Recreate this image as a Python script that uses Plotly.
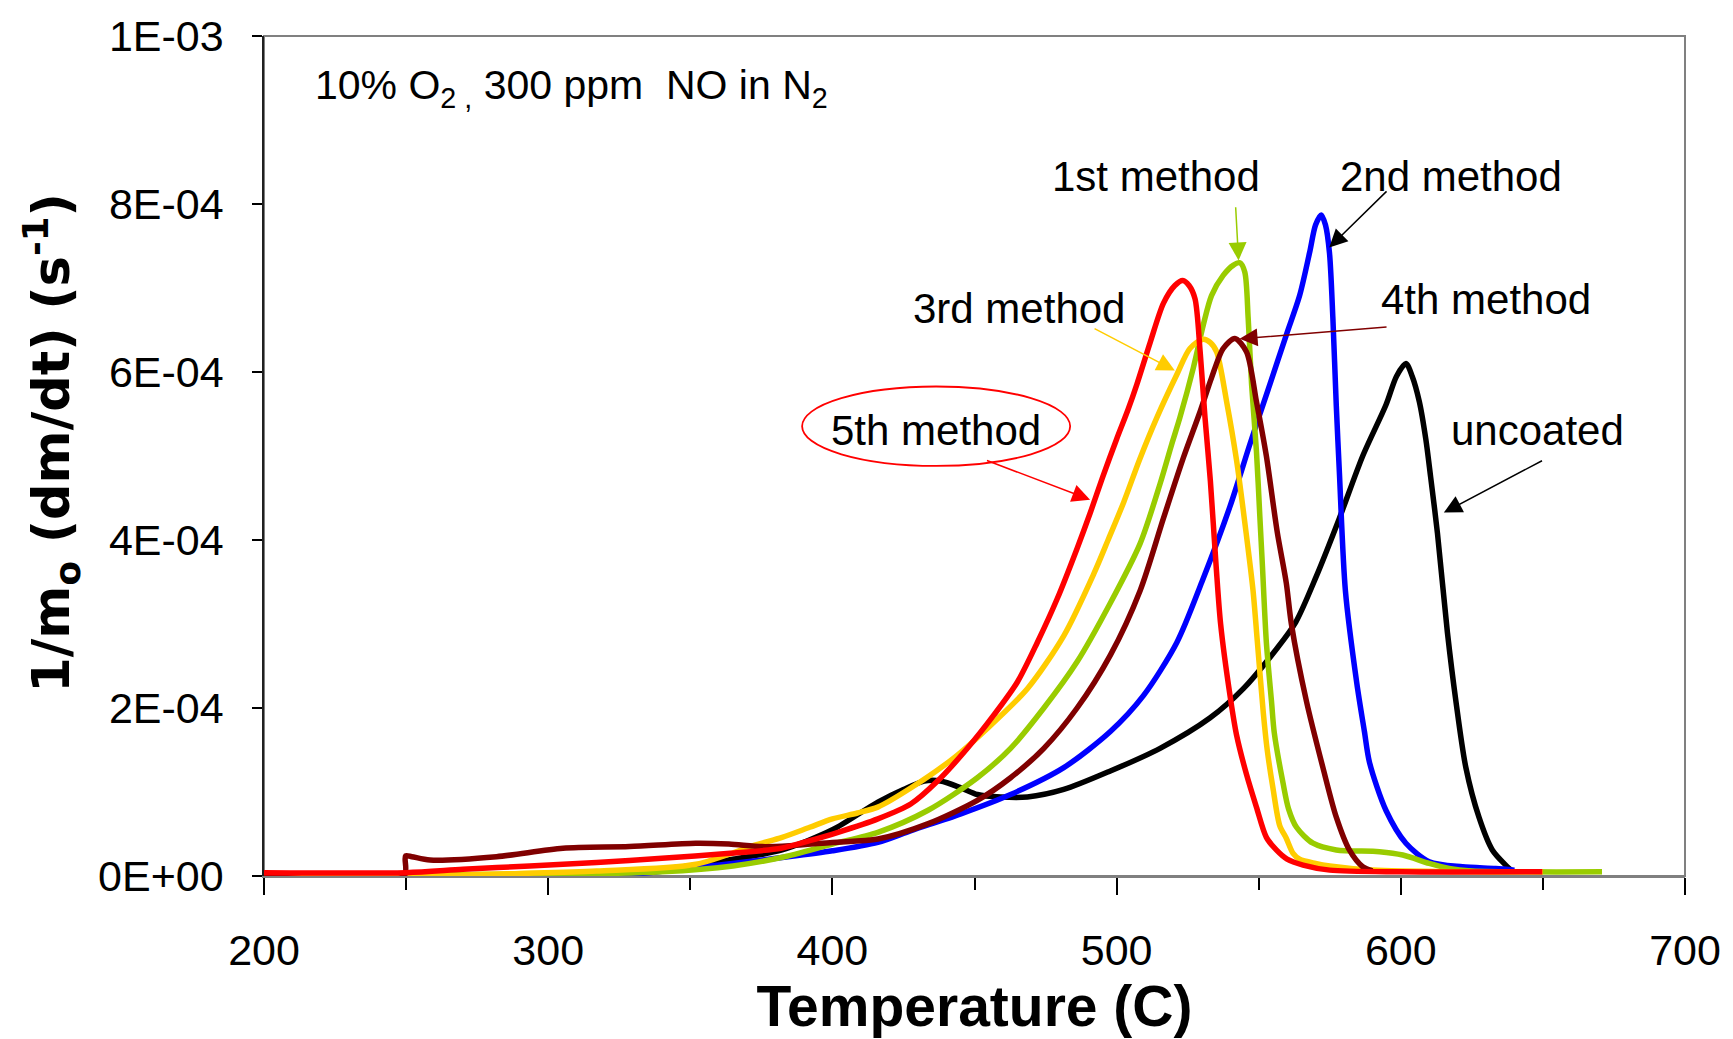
import plotly.graph_objects as go

# ---- data (rate values in units of 1E-04 s^-1) ----
SCALE = 1e-4

t_uncoated = [200, 290, 320, 345, 365, 382.3, 400, 416, 425, 432.3, 438, 445.2, 451, 459.2, 468.6,
              481.4, 497.8, 515.3, 532.8, 544.6, 556.2, 563, 570.3, 578.4, 586.6, 594.8, 598.5,
              601.8, 604, 606.5, 608.8, 610.5, 612.9, 616.4, 619.4, 622.9, 627.5, 632.2, 636.9, 639.5]
r_uncoated = [0, 0, 0.03, 0.1, 0.2, 0.31, 0.55, 0.88, 1.03, 1.13, 1.13, 1.05, 0.97, 0.94, 0.94,
              1.03, 1.25, 1.52, 1.88, 2.23, 2.70, 3.02, 3.57, 4.26, 5.0, 5.61, 5.95,
              6.10, 5.95, 5.65, 5.2, 4.75, 4.08, 2.90, 2.08, 1.29, 0.70, 0.31, 0.13, 0.05]

t_method2 = [200, 300, 328.6, 351.9, 370, 382.3, 400, 416, 427.7, 445.2, 462.7, 481.4, 497.8,
             509.5, 521.2, 530, 539.9, 546.9, 553.9, 559.7, 564.4, 567.9, 570, 572, 573.5, 574.9,
             576.1, 577.3, 578.4, 580.5, 584.5, 587.2, 589, 594.8, 601.8, 610, 621.7, 633.4, 640]
r_method2 = [0, 0, 0.02, 0.1, 0.17, 0.22, 0.3, 0.40, 0.54, 0.74, 0.97, 1.29, 1.72,
             2.15, 2.78, 3.5, 4.4, 5.14, 5.85, 6.44, 6.91, 7.42, 7.75, 7.87, 7.75, 7.42,
             6.64, 5.6, 4.8, 3.4, 2.3, 1.72, 1.35, 0.78, 0.39, 0.17, 0.11, 0.09, 0.07]

t_method1 = [200, 240, 300, 340, 365, 382, 400, 416, 433.5, 451, 462.7, 474.4, 486.1, 497.8,
             508.3, 515.3, 519.4, 522.3, 527, 530.5, 533.4, 537.5, 541, 543.4, 545.1, 546.3,
             547.5, 549.2, 550.4, 551.3, 552.7, 554.5, 555.5, 558.6, 560.5, 563.3, 569.1, 577.3,
             592.5, 600.7, 610, 617, 625, 670.8]
r_method1 = [0, 0.02, 0.02, 0.05, 0.12, 0.22, 0.38, 0.52, 0.78, 1.17, 1.52, 2.0, 2.55, 3.25,
             3.96, 4.67, 5.14, 5.46, 6.05, 6.56, 6.91, 7.15, 7.27, 7.30, 7.19, 6.64,
             5.85, 5.06, 4.28, 3.7, 2.78, 2.08, 1.70, 1.10, 0.8, 0.58, 0.39, 0.31,
             0.29, 0.25, 0.15, 0.09, 0.06, 0.05]

t_method3 = [200, 255, 290, 317, 352, 373, 382.3, 392, 400, 408.8, 416, 427.7, 442.9, 454.6,
             468.6, 481.4, 492, 497, 502.5, 508, 514.2, 521.2, 525.8, 530.5, 533, 535.2, 538.7,
             542.2, 545.7, 548, 549.5, 551.6, 553, 555, 557.4, 559.7, 562.1, 564.4, 570, 575,
             590, 620, 650]
r_method3 = [0, 0, 0.03, 0.06, 0.14, 0.37, 0.46, 0.58, 0.68, 0.75, 0.82, 1.05, 1.41, 1.76,
             2.23, 2.86, 3.6, 4.0, 4.45, 4.95, 5.46, 5.97, 6.28, 6.39, 6.35, 6.24, 5.65,
             4.95, 4.05, 3.4, 2.8, 1.95, 1.5, 1.05, 0.6, 0.45, 0.27, 0.2, 0.15, 0.12,
             0.07, 0.05, 0.05]

t_method4 = [200, 249.3, 249.8, 252, 258.4, 281.8, 305.2, 328.6, 351.9, 363.6, 375.3, 385, 400,
             416, 433.5, 451, 462.7, 474.4, 486.1, 497.8, 508.3, 516.5, 523.5, 529.4, 533.4,
             537.5, 541.6, 545.7, 549.2, 552.7, 556.5, 559.7, 561.5, 566.8, 572.6, 577.3, 581.9,
             586.6, 590]
r_method4 = [0, 0, 0.24, 0.23, 0.19, 0.23, 0.33, 0.35, 0.39, 0.38, 0.35, 0.36, 0.4,
             0.44, 0.62, 0.90, 1.17, 1.52, 2.0, 2.63, 3.4, 4.26, 4.98, 5.53, 5.93,
             6.28, 6.40, 6.24, 5.65, 5.0, 4.1, 3.49, 3.0, 2.08, 1.29, 0.70, 0.31,
             0.11, 0.06]

t_method5 = [200, 250, 270, 293.5, 317, 340, 364, 382, 392, 402, 416, 427.7, 437, 447.5, 456.9,
             465.1, 472.1, 479.1, 486.1, 490.8, 495, 500, 504, 507.1, 511.8, 516.5, 520.5, 523.3,
             525.5, 527.6, 529.4, 531.1, 533, 535, 536.6, 539.9, 542.2, 545.7, 549.2, 552.7,
             556.2, 560, 565.6, 575, 600, 649.8]
r_method5 = [0.04, 0.04, 0.08, 0.12, 0.16, 0.21, 0.27, 0.33, 0.42, 0.52, 0.68, 0.86, 1.13, 1.52, 1.92,
             2.31, 2.78, 3.3, 3.9, 4.33, 4.74, 5.2, 5.55, 5.85, 6.35, 6.82, 7.03, 7.09,
             7.03, 6.87, 6.24, 5.46, 4.7, 3.7, 3.0, 2.15, 1.68, 1.21, 0.82, 0.46,
             0.31, 0.2, 0.13, 0.07, 0.05, 0.05]

series_names = ["uncoated", "2nd method", "1st method", "3rd method", "4th method", "5th method"]
series_colors = ["#000000", "#0000FF", "#99CC00", "#FFCC00", "#800000", "#FF0000"]
series_t = [t_uncoated, t_method2, t_method1, t_method3, t_method4, t_method5]
series_r = [r_uncoated, r_method2, r_method1, r_method3, r_method4, r_method5]

x_range = [200, 700]
y_range = [0, 1e-3]
y_tick_vals = [0, 2e-4, 4e-4, 6e-4, 8e-4, 1e-3]
y_tick_text = ["0E+00", "2E-04", "4E-04", "6E-04", "8E-04", "1E-03"]
x_tick_vals = [200, 300, 400, 500, 600, 700]

# ---- page geometry (pixels) ----
W, H = 1733, 1039
L, R, T, B = 264, 43, 30, 163
PX0, PX1 = L, W - R
PY0, PY1 = T, H - B


def px_x(px):
    return x_range[0] + (px - PX0) / (PX1 - PX0) * (x_range[1] - x_range[0])


def px_y(py):
    return y_range[0] + (PY1 - py) / (PY1 - PY0) * (y_range[1] - y_range[0])


fig = go.Figure()
for name, color, tt, rr in zip(series_names, series_colors, series_t, series_r):
    fig.add_trace(go.Scatter(
        x=tt, y=[v * SCALE for v in rr], mode="lines", name=name,
        line=dict(color=color, width=5.5, shape="spline", smoothing=0.8),
        showlegend=False, hoverinfo="skip",
    ))

TXT = dict(family="Liberation Sans, Arial, sans-serif", size=42, color="black")

# label text
labels = [
    ("1st method", 1159, 172),
    ("2nd method", 1455, 172),
    ("3rd method", 1022, 304),
    ("4th method", 1490, 295),
    ("5th method", 938, 427),
    ("uncoated", 1542, 427),
]
for text, cx, cy in labels:
    fig.add_annotation(x=px_x(cx), y=px_y(cy), xref="x", yref="y", text=text,
                       showarrow=False, font=TXT, xanchor="center", yanchor="middle")

# arrows: (tail px, head px, colour)
arrows = [
    ((1239, 201), (1242, 256), "#99CC00"),
    ((1392, 185), (1333, 243), "#000000"),
    ((1096, 324), (1178, 367), "#FFCC00"),
    ((1392, 323), (1243, 335), "#800000"),
    ((988, 457), (1093, 497), "#FF0000"),
    ((1548, 457), (1448, 510), "#000000"),
]
for (tx, ty), (hx, hy), col in arrows:
    fig.add_annotation(x=px_x(hx), y=px_y(hy), ax=px_x(tx), ay=px_y(ty),
                       xref="x", yref="y", axref="x", ayref="y", text="",
                       showarrow=True, arrowhead=2, arrowsize=2.4, arrowwidth=1.5,
                       arrowcolor=col, standoff=0)

# ellipse around the 5th method label
fig.add_shape(type="circle", xref="x", yref="y",
              x0=px_x(804), x1=px_x(1073), y0=px_y(463), y1=px_y(383),
              line=dict(color="#FF0000", width=1.8), layer="above")

# condition text
fig.add_annotation(xref="paper", yref="paper", x=(313 - PX0) / (PX1 - PX0),
                   y=(PY1 - 82) / (PY1 - PY0),
                   text="10% O<sub>2 ,</sub> 300 ppm\u00a0 NO in N<sub>2</sub>",
                   showarrow=False, xanchor="left", yanchor="middle",
                   font=dict(family="Liberation Sans, Arial, sans-serif", size=41, color="black"))

# y-axis title, rotated
fig.add_annotation(xref="paper", yref="paper", x=(50 - PX0) / (PX1 - PX0),
                   y=(PY1 - 440) / (PY1 - PY0),
                   text="<b>1/m<sub>o</sub> (dm/dt) (s<sup>-1</sup>)</b>", textangle=-90,
                   showarrow=False, xanchor="center", yanchor="middle",
                   font=dict(family="DejaVu Sans, sans-serif", size=51, color="black"))

# plot frame (top / right borders)
fig.add_shape(type="rect", xref="paper", yref="paper", x0=0, x1=1, y0=0, y1=1,
              line=dict(color="#808080", width=2), layer="below")

fig.update_layout(
    width=W, height=H,
    margin=dict(l=L, r=R, t=T, b=B, pad=0),
    paper_bgcolor="white", plot_bgcolor="white",
    xaxis=dict(
        range=x_range, tickvals=x_tick_vals, showgrid=False, zeroline=False,
        showline=True, linecolor="#808080", linewidth=2,
        ticks="outside", ticklen=17, tickwidth=1.5, tickcolor="black",
        minor=dict(dtick=50, ticks="outside", ticklen=12, tickwidth=1.5, tickcolor="black"),
        tickfont=dict(family="Liberation Sans, Arial, sans-serif", size=43, color="black"),
        ticklabelstandoff=18,
        title=dict(text="<b>Temperature (C)</b>", standoff=10,
                   font=dict(family="Liberation Sans, Arial, sans-serif", size=57, color="black")),
    ),
    yaxis=dict(
        range=y_range, tickvals=y_tick_vals, ticktext=y_tick_text,
        showgrid=False, zeroline=False,
        showline=True, linecolor="#202020", linewidth=1.5,
        ticks="outside", ticklen=10, tickwidth=1.5, tickcolor="black",
        tickfont=dict(family="Liberation Sans, Arial, sans-serif", size=43, color="black"),
        ticklabelstandoff=20,
    ),
)

fig.write_html("out.html")
